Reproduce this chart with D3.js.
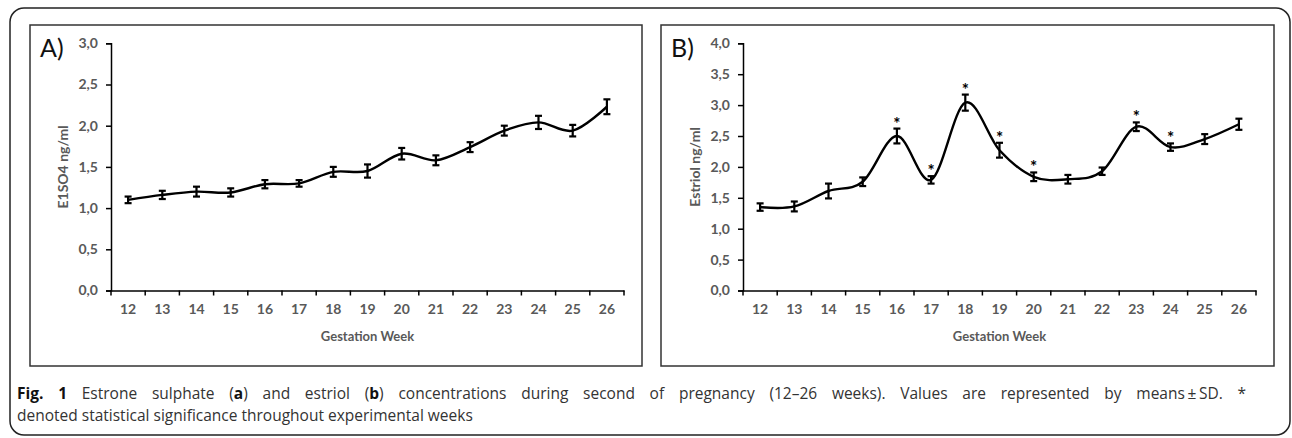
<!DOCTYPE html>
<html>
<head>
<meta charset="utf-8">
<script src="https://cdn.jsdelivr.net/npm/d3@7"></script>
<style>
  html, body { margin: 0; padding: 0; background: #fff; }
  svg { display: block; }
</style>
</head>
<body>
<div id="chart"></div>
<script>
// gestation weeks (categories)
const weeks = [12, 13, 14, 15, 16, 17, 18, 19, 20, 21, 22, 23, 24, 25, 26];

// panel A: estrone sulphate
const e1so4Mean = [1.10, 1.16, 1.20, 1.19, 1.29, 1.30, 1.44, 1.45, 1.66, 1.58, 1.74, 1.94, 2.04, 1.94, 2.23];
const e1so4Sd   = [0.04, 0.05, 0.06, 0.05, 0.05, 0.04, 0.06, 0.08, 0.07, 0.06, 0.06, 0.06, 0.08, 0.07, 0.09];
const e1so4Ticks = [0, 0.5, 1.0, 1.5, 2.0, 2.5, 3.0];

// panel B: estriol
const estriolMean = [1.35, 1.36, 1.61, 1.76, 2.50, 1.79, 3.04, 2.27, 1.84, 1.80, 1.93, 2.65, 2.32, 2.45, 2.69];
const estriolSd   = [0.06, 0.08, 0.12, 0.07, 0.12, 0.06, 0.13, 0.12, 0.07, 0.07, 0.06, 0.07, 0.06, 0.08, 0.09];
const estriolSig  = [16, 17, 18, 19, 20, 23, 24];
const estriolTicks = [0, 0.5, 1.0, 1.5, 2.0, 2.5, 3.0, 3.5, 4.0];

const W = 1292, H = 438;
const axisFont = "Lato, 'Open Sans', sans-serif";
const gray = '#595959';

const svg = d3.select('#chart').append('svg')
  .attr('width', W)
  .attr('height', H);

// outer figure frame
svg.append('rect')
  .attr('x', 10).attr('y', 8)
  .attr('width', 1280).attr('height', 427)
  .attr('rx', 14).attr('ry', 14)
  .attr('fill', 'none')
  .attr('stroke', '#222')
  .attr('stroke-width', 1.5);

function drawPanel(opts) {
  const { box, plot, label, yTitle, means, sds, ticks, yMax, sig } = opts;

  svg.append('rect')
    .attr('x', box.x).attr('y', box.y)
    .attr('width', box.w).attr('height', box.h)
    .attr('fill', '#fff')
    .attr('stroke', '#333')
    .attr('stroke-width', 1.5);

  const g = svg.append('g');

  const x = d3.scaleBand().domain(weeks).range([plot.x0, plot.x1]).padding(0);
  const y = d3.scaleLinear().domain([0, yMax]).range([plot.y1, plot.y0]);
  const cx = w => x(w) + x.bandwidth() / 2;

  // y axis
  const yAxis = g.append('g')
    .attr('transform', `translate(${plot.x0},0)`)
    .call(d3.axisLeft(y).tickValues(ticks).tickSize(5).tickPadding(8)
      .tickFormat(d => d3.format('.1f')(d).replace('.', ',')));
  yAxis.select('.domain').attr('stroke', '#000').attr('stroke-width', 1.5);
  yAxis.selectAll('.tick line').attr('stroke', '#000').attr('stroke-width', 1.5);
  yAxis.selectAll('.tick text')
    .attr('fill', gray).attr('font-family', axisFont)
    .attr('font-size', 14).attr('font-weight', 700);

  // x axis: labels at category centres, ticks between categories
  const xAxis = g.append('g')
    .attr('transform', `translate(0,${plot.y1})`)
    .call(d3.axisBottom(x).tickSize(0).tickPadding(14));
  xAxis.select('.domain').attr('stroke', '#000').attr('stroke-width', 1.5);
  xAxis.selectAll('.tick text')
    .attr('fill', gray).attr('font-family', axisFont)
    .attr('font-size', 14).attr('font-weight', 700);

  const bounds = weeks.map(w => x(w)).concat([plot.x1]);
  xAxis.selectAll('line.sep')
    .data(bounds)
    .enter()
    .append('line')
    .attr('class', 'sep')
    .attr('x1', d => d).attr('x2', d => d)
    .attr('y1', 0).attr('y2', 5)
    .attr('stroke', '#000').attr('stroke-width', 1.5);

  // titles
  g.append('text')
    .attr('x', (plot.x0 + plot.x1) / 2)
    .attr('y', plot.y1 + 50)
    .attr('text-anchor', 'middle')
    .attr('fill', gray).attr('font-family', axisFont)
    .attr('font-size', 13).attr('font-weight', 700)
    .text('Gestation Week');

  g.append('text')
    .attr('transform', `translate(${plot.x0 - 43},${(plot.y0 + plot.y1) / 2}) rotate(-90)`)
    .attr('text-anchor', 'middle')
    .attr('fill', gray).attr('font-family', axisFont)
    .attr('font-size', 14).attr('font-weight', 700)
    .text(yTitle);

  g.append('text')
    .attr('x', box.x + 10)
    .attr('y', box.y + 32)
    .attr('fill', '#111').attr('font-family', axisFont)
    .attr('font-size', 25)
    .text(label);

  // smoothed mean line
  const pts = weeks.map((w, i) => [cx(w), y(means[i])]);
  g.append('path')
    .datum(pts)
    .attr('fill', 'none')
    .attr('stroke', '#000')
    .attr('stroke-width', 2.4)
    .attr('d', d3.line().curve(d3.curveCardinal.tension(0)));

  // error bars
  const eb = g.append('g').attr('class', 'errorbars');
  const rows = weeks.map((w, i) => ({ w, m: means[i], s: sds[i] }));
  eb.selectAll('line.v').data(rows).enter().append('line')
    .attr('x1', d => cx(d.w)).attr('x2', d => cx(d.w))
    .attr('y1', d => y(d.m - d.s)).attr('y2', d => y(d.m + d.s))
    .attr('stroke', '#000').attr('stroke-width', 2.2);
  eb.selectAll('line.top').data(rows).enter().append('line')
    .attr('x1', d => cx(d.w) - 3.5).attr('x2', d => cx(d.w) + 3.5)
    .attr('y1', d => y(d.m + d.s)).attr('y2', d => y(d.m + d.s))
    .attr('stroke', '#000').attr('stroke-width', 2.2);
  eb.selectAll('line.bot').data(rows).enter().append('line')
    .attr('x1', d => cx(d.w) - 3.5).attr('x2', d => cx(d.w) + 3.5)
    .attr('y1', d => y(d.m - d.s)).attr('y2', d => y(d.m - d.s))
    .attr('stroke', '#000').attr('stroke-width', 2.2);

  // significance marks
  if (sig) {
    g.selectAll('text.sig')
      .data(rows.filter(d => sig.includes(d.w)))
      .enter()
      .append('text')
      .attr('class', 'sig')
      .attr('x', d => cx(d.w))
      .attr('y', d => y(d.m + d.s) + 1)
      .attr('text-anchor', 'middle')
      .attr('fill', '#000')
      .attr('font-family', axisFont)
      .attr('font-weight', 700)
      .attr('font-size', 17)
      .text('*');
  }
}

drawPanel({
  box: { x: 30, y: 25, w: 612, h: 341 },
  plot: { x0: 111, x1: 624, y0: 43.3, y1: 290.5 },
  label: 'A)',
  yTitle: 'E1SO4 ng/ml',
  means: e1so4Mean, sds: e1so4Sd, ticks: e1so4Ticks, yMax: 3.0
});

drawPanel({
  box: { x: 661, y: 25, w: 613, h: 341 },
  plot: { x0: 743, x1: 1256, y0: 43.3, y1: 290.5 },
  label: 'B)',
  yTitle: 'Estriol ng/ml',
  means: estriolMean, sds: estriolSd, ticks: estriolTicks, yMax: 4.0,
  sig: estriolSig
});

// caption (first line justified to the caption width)
const cap = svg.append('g')
  .attr('font-family', "'Open Sans', sans-serif")
  .attr('font-size', 15.5)
  .attr('fill', '#333');

const line1 = cap.append('text').attr('x', 17).attr('y', 399);
const parts = [
  ['Fig. 1', true], [' Estrone sulphate (', false], ['a', true],
  [') and estriol (', false], ['b', true],
  [') concentrations during second of pregnancy (12–26 weeks). Values are represented by means\u2009±\u2009SD. *', false]
];
parts.forEach(([t, bold]) => {
  const s = line1.append('tspan').text(t);
  if (bold) s.attr('font-weight', 700).attr('fill', '#111');
});
const natural = line1.node().getComputedTextLength();
const nSpaces = parts.map(p => p[0]).join('').split(' ').length - 1;
line1.attr('word-spacing', Math.max(0, (1246 - 17 - natural) / nSpaces));

cap.append('text').attr('x', 17).attr('y', 421)
  .text('denoted statistical significance throughout experimental weeks');
</script>
</body>
</html>
